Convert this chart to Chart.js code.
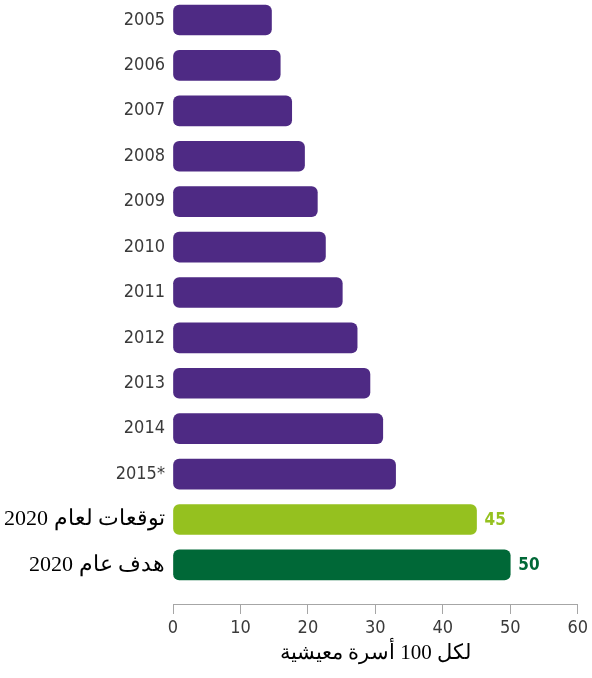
<!DOCTYPE html>
<html lang="ar">
<head>
    <meta charset="UTF-8">
    <title>لكل 100 أسرة معيشية</title>
    <script src="https://cdn.jsdelivr.net/npm/chart.js"></script>
    <style>
        * { margin: 0; padding: 0; box-sizing: border-box; }
        body { background: #fff; width: 592px; height: 678px; overflow: hidden; }
        #wrap { position: relative; width: 592px; height: 678px; }
    </style>
</head>
<body>
    <div id="wrap"><canvas id="chart"></canvas></div>

    <script>
        // data
        const categories = ['2005', '2006', '2007', '2008', '2009', '2010', '2011', '2012', '2013', '2014', '2015*', 'توقعات لعام 2020', 'هدف عام 2020'];
        const values = [14.6, 15.9, 17.6, 19.5, 21.4, 22.6, 25.1, 27.3, 29.2, 31.1, 33.0, 45, 50];
        const xTicks = [0, 10, 20, 30, 40, 50, 60];
        const axisTitle = 'لكل 100 أسرة معيشية';

        const PURPLE = '#4e2a84';
        const LIGHT_GREEN = '#95c11f';
        const DARK_GREEN = '#006837';
        const narrow = "'DejaVu Sans Condensed', 'Liberation Sans Narrow', sans-serif";
        const serif = "'Liberation Serif', 'DejaVu Serif', serif";

        const colorFor = i => i === categories.length - 1 ? DARK_GREEN : (i === categories.length - 2 ? LIGHT_GREEN : PURPLE);
        const isArabic = i => i >= categories.length - 2;

        // value labels next to the 2020 bars
        const valueLabels = {
            id: 'valueLabels',
            afterDatasetsDraw(chart) {
                const ctx = chart.ctx;
                const meta = chart.getDatasetMeta(0);
                ctx.save();
                ctx.font = 'bold 17px ' + narrow;
                ctx.textBaseline = 'middle';
                ctx.textAlign = 'left';
                meta.data.forEach((bar, i) => {
                    if (!isArabic(i)) return;
                    ctx.fillStyle = colorFor(i);
                    ctx.fillText(String(values[i]), bar.x + 8, bar.y + 1);
                });
                ctx.restore();
            }
        };

        new Chart(document.getElementById('chart'), {
            type: 'bar',
            data: {
                datasets: [{
                    data: values.map((v, i) => ({ x: v, y: i })),
                    backgroundColor: categories.map((c, i) => colorFor(i)),
                    borderRadius: 6,
                    borderSkipped: false,
                    barThickness: 30
                }]
            },
            options: {
                indexAxis: 'y',
                responsive: true,
                maintainAspectRatio: false,
                animation: false,
                layout: { padding: { top: 0, right: 12, bottom: 0, left: 0 } },
                plugins: {
                    legend: { display: false },
                    tooltip: { enabled: false }
                },
                scales: {
                    y: {
                        type: 'linear',
                        reverse: true,
                        offset: false,
                        min: -0.44,
                        max: 12.86,
                        grid: { display: false, drawTicks: false },
                        border: { display: false },
                        afterBuildTicks: scale => {
                            scale.ticks = categories.map((c, i) => ({ value: i }));
                        },
                        afterFit: scale => {
                            scale.width = 173;
                            scale.paddingTop = 0;
                            scale.paddingBottom = 0;
                        },
                        ticks: {
                            padding: 8,
                            callback: v => categories[v],
                            color: ctx => isArabic(ctx.index) ? '#000' : '#3a3a3a',
                            font: ctx => isArabic(ctx.index)
                                ? { family: serif, size: 22 }
                                : { family: narrow, size: 18 }
                        }
                    },
                    x: {
                        min: 0,
                        max: 60,
                        afterBuildTicks: scale => {
                            scale.ticks = xTicks.map(v => ({ value: v }));
                        },
                        afterFit: scale => { scale.height = 74; },
                        grid: {
                            drawOnChartArea: false,
                            drawTicks: true,
                            tickLength: 10,
                            color: '#a6a6a6'
                        },
                        border: { display: true, color: '#a6a6a6', width: 1 },
                        ticks: {
                            padding: 4,
                            color: '#3a3a3a',
                            font: { family: narrow, size: 18 }
                        },
                        title: {
                            display: true,
                            text: axisTitle,
                            color: '#000',
                            font: { family: serif, size: 21 },
                            padding: { top: 4, bottom: 12 }
                        }
                    }
                }
            },
            plugins: [valueLabels]
        });
    </script>
</body>
</html>
